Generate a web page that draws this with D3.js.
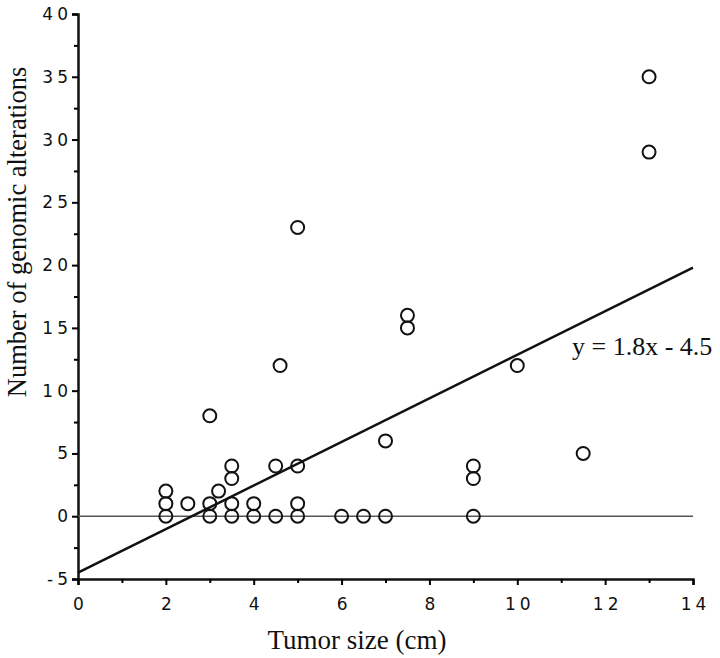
<!DOCTYPE html>
<html>
<head>
    <meta charset="utf-8">
    <title>Tumor size vs genomic alterations</title>
    <script src="https://d3js.org/d3.v7.min.js"></script>
    <style>
        body { margin: 0; background: #fff; }
        .tick text { font-family: "DejaVu Sans", Arial, sans-serif; font-size: 17px; letter-spacing: 4px; fill: #111; }
    </style>
</head>
<body>
    <div id="chart"></div>
    <script>
        // tumor size (cm) and number of alterations
        var tumorSize = [2, 2, 2, 2.5, 3, 3, 3, 3.2, 3.5, 3.5, 3.5, 3.5, 4, 4, 4.5, 4.5, 4.6,
                         5, 5, 5, 5, 6, 6.5, 7, 7, 7.5, 7.5, 9, 9, 9, 10, 11.5, 13, 13];
        var alterations = [2, 1, 0, 1, 8, 1, 0, 2, 4, 3, 1, 0, 1, 0, 4, 0, 12,
                           23, 4, 1, 0, 0, 0, 0, 6, 16, 15, 4, 3, 0, 12, 5, 35, 29];
        // regression line end points as drawn
        var fitX = [0, 14];
        var fitY = [-4.5, 19.8];
        var fitLabel = "y = 1.8x - 4.5";
        var xTicks = d3.range(0, 15, 1);
        var yTicks = d3.range(-5, 40.1, 2.5);

        var margin = {top: 14, right: 27, bottom: 79, left: 78},
            width = 720 - margin.left - margin.right,
            height = 658 - margin.top - margin.bottom;

        var svg = d3.select("#chart")
            .append("svg")
                .attr("width", width + margin.left + margin.right)
                .attr("height", height + margin.top + margin.bottom)
            .append("g")
                .attr("transform", "translate(" + margin.left + "," + margin.top + ")");

        var x = d3.scaleLinear().domain([0, 14]).range([0, width]);
        var y = d3.scaleLinear().domain([-5, 40]).range([height, 0]);

        var xAxis = svg.append("g")
            .attr("transform", "translate(0," + height + ")")
            .call(d3.axisBottom(x)
                .tickValues(xTicks)
                .tickSize(6)
                .tickPadding(13)
                .tickFormat(function(d) { return d % 2 === 0 ? d : ""; }));
        xAxis.selectAll(".tick line")
            .attr("y2", function(d) { return d % 2 === 0 ? 6 : 4; })
            .attr("stroke-width", 2);
        xAxis.selectAll(".tick text").attr("dx", "2px");

        var yAxis = svg.append("g")
            .call(d3.axisLeft(y)
                .tickValues(yTicks)
                .tickSize(6)
                .tickPadding(4)
                .tickFormat(function(d) { return d % 5 === 0 ? d : ""; }));
        yAxis.selectAll(".tick line")
            .attr("x2", function(d) { return d % 5 === 0 ? -6 : -4; })
            .attr("stroke-width", 2);
        yAxis.selectAll(".tick text").attr("dx", "4px");

        svg.selectAll(".domain")
            .attr("stroke", "#111")
            .attr("stroke-width", 2.5);

        // zero reference line
        svg.append("line")
            .attr("x1", x(0))
            .attr("x2", x(14))
            .attr("y1", y(0))
            .attr("y2", y(0))
            .attr("stroke", "#555")
            .attr("stroke-width", 1.5);

        // regression line
        svg.append("line")
            .attr("x1", x(fitX[0]))
            .attr("x2", x(fitX[1]))
            .attr("y1", y(fitY[0]))
            .attr("y2", y(fitY[1]))
            .attr("stroke", "#111")
            .attr("stroke-width", 2.5);

        svg.selectAll(".pt")
            .data(tumorSize)
            .enter()
            .append("circle")
                .attr("class", "pt")
                .attr("cx", function(d) { return x(d); })
                .attr("cy", function(d, i) { return y(alterations[i]); })
                .attr("r", 6.5)
                .attr("fill", "none")
                .attr("stroke", "#111")
                .attr("stroke-width", 2);

        svg.append("text")
            .attr("x", 494)
            .attr("y", 341)
            .style("font-family", "'Liberation Serif', 'Times New Roman', serif")
            .style("font-size", "26px")
            .attr("fill", "#111")
            .text(fitLabel);

        svg.append("text")
            .attr("x", 279)
            .attr("y", height + 70)
            .style("text-anchor", "middle")
            .style("font-family", "'Liberation Serif', 'Times New Roman', serif")
            .style("font-size", "27px")
            .attr("fill", "#111")
            .text("Tumor size (cm)");

        svg.append("text")
            .attr("transform", "rotate(-90)")
            .attr("x", -218)
            .attr("y", -52.5)
            .style("text-anchor", "middle")
            .style("font-family", "'Liberation Serif', 'Times New Roman', serif")
            .style("font-size", "26.5px")
            .attr("fill", "#111")
            .text("Number of genomic alterations");
    </script>
</body>
</html>
